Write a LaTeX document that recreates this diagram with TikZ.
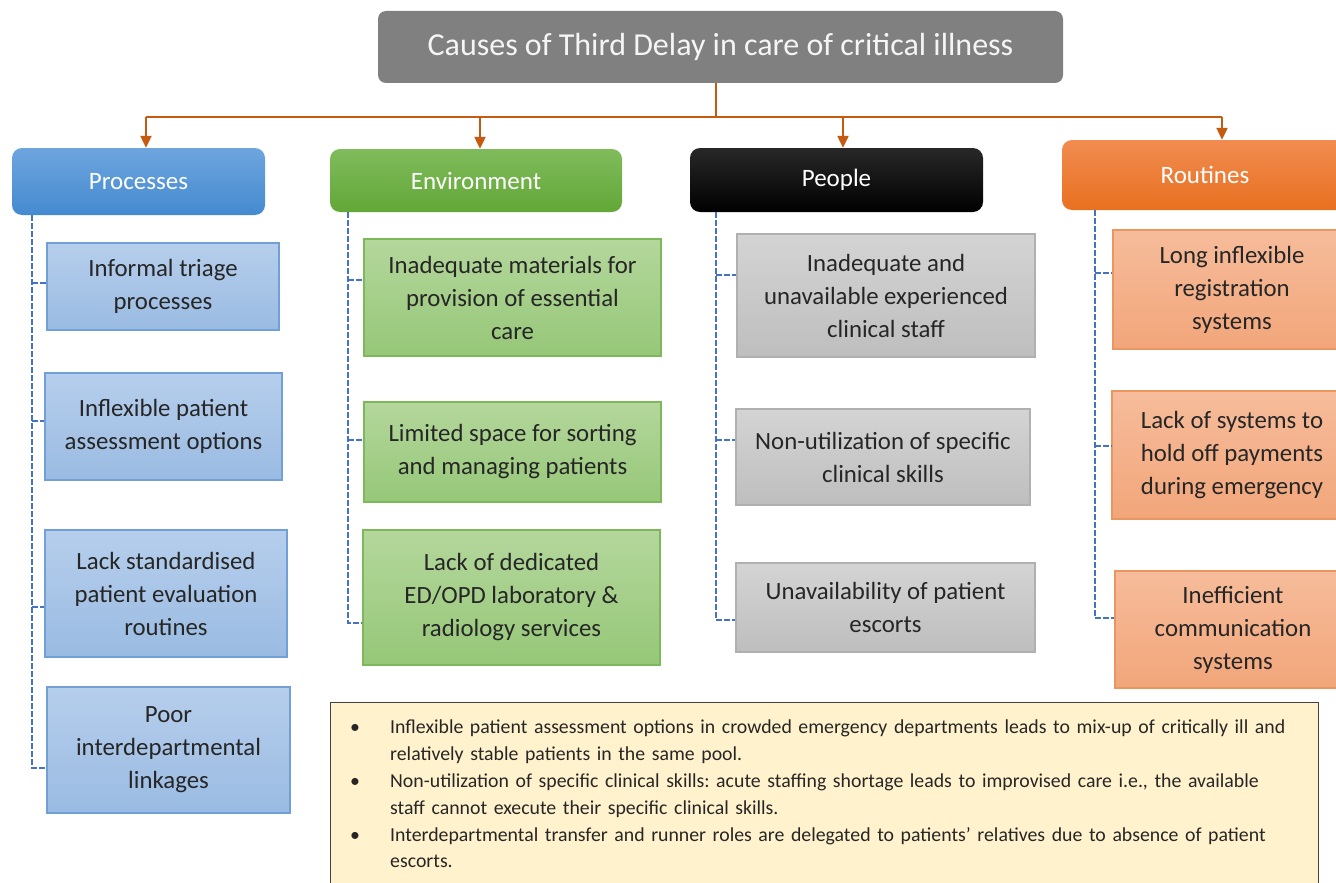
\documentclass[tikz,border=0pt]{standalone}
\usepackage{fontspec}
\setmainfont{Carlito}
\usetikzlibrary{arrows.meta}
\frenchspacing

\definecolor{titlegray}{RGB}{128,128,128}
\definecolor{treeorange}{RGB}{197,90,17}
\definecolor{dashblue}{RGB}{68,114,196}
\definecolor{itemtext}{RGB}{38,38,38}
\definecolor{noteyellow}{RGB}{255,242,204}

\tikzset{
  hdr/.style={rounded corners=10pt, inner sep=0pt, text=white,
    font=\fontsize{25}{28}\selectfont, align=center},
  procH/.style={hdr, top color={rgb,255:red,110;green,165;blue,222}, bottom color={rgb,255:red,68;green,138;blue,208}},
  envH/.style={hdr, top color={rgb,255:red,128;green,187;blue,92}, bottom color={rgb,255:red,98;green,167;blue,55}},
  peopH/.style={hdr, top color={rgb,255:red,40;green,40;blue,40}, bottom color=black},
  routH/.style={hdr, top color={rgb,255:red,241;green,140;blue,80}, bottom color={rgb,255:red,232;green,112;blue,32}},
  itembox/.style={draw, line width=1.2pt, inner sep=0pt, align=center, text=itemtext,
    font=\fontsize{24.8}{33}\selectfont},
  procI/.style={itembox, draw={rgb,255:red,112;green,160;blue,214},
    top color={rgb,255:red,182;green,206;blue,236}, bottom color={rgb,255:red,154;green,187;blue,226}},
  envI/.style={itembox, draw={rgb,255:red,126;green,184;blue,90},
    top color={rgb,255:red,180;green,215;blue,156}, bottom color={rgb,255:red,150;green,199;blue,120}},
  peopI/.style={itembox, draw={rgb,255:red,176;green,176;blue,176},
    top color={rgb,255:red,212;green,212;blue,212}, bottom color={rgb,255:red,190;green,190;blue,190}},
  routI/.style={itembox, draw={rgb,255:red,233;green,150;blue,96},
    top color={rgb,255:red,246;green,188;blue,155}, bottom color={rgb,255:red,242;green,166;blue,122}},
  tree/.style={draw=treeorange, line width=2.2pt},
  treearrow/.style={tree, -{Triangle[length=12pt,width=11pt]}},
  dashconn/.style={draw=dashblue, line width=1.6pt, dash pattern=on 6pt off 2pt},
}

\begin{document}
\begin{tikzpicture}[x=1pt, y=-1pt]
  \clip (0,0) rectangle (1336,883);
  \fill[white] (0,0) rectangle (1336,883);

  % title
  \node[rounded corners=8pt, fill=titlegray, text={rgb,255:red,245;green,245;blue,245},
        minimum width=685pt, minimum height=72pt, inner sep=0pt,
        font=\fontsize{32}{36}\selectfont] (title) at (720.5,47) {Causes of Third Delay in care of critical illness};

  % category headers
  \node[procH, minimum width=253pt, minimum height=67pt] (hp) at (138.5,181.5) {Processes};
  \node[envH,  minimum width=292pt, minimum height=63pt] (he) at (476,180.5) {Environment};
  \node[peopH, minimum width=293pt, minimum height=64pt] (hg) at (836.5,180) {People};
  \node[routH, minimum width=286pt, minimum height=70pt] (hr) at (1205,175) {Routines};

  % orange tree from the title to the headers
  \coordinate (stem) at (716,0);
  \coordinate (b1) at (146,117);
  \coordinate (b2) at (480,117);
  \coordinate (b3) at (843,117);
  \coordinate (b4) at (1222,117);
  \draw[tree] (title.south -| stem) -- (stem |- b1);
  \draw[tree] (b1) -- (b4);
  \draw[treearrow] (b1) -- (hp.north -| b1);
  \draw[treearrow] (b2) -- (he.north -| b2);
  \draw[treearrow] (b3) -- (hg.north -| b3);
  \draw[treearrow] (b4) -- (hr.north -| b4);

  % Processes items
  \node[procI, minimum width=232pt, minimum height=87pt]  (p1) at (163,286.5) {Informal triage\\processes};
  \node[procI, minimum width=237pt, minimum height=107pt] (p2) at (163.5,426.5) {Inflexible patient\\assessment options};
  \node[procI, minimum width=242pt, minimum height=127pt] (p3) at (166,593.5) {Lack standardised\\patient evaluation\\routines};
  \node[procI, minimum width=243pt, minimum height=126pt] (p4) at (168.5,750) {Poor\\interdepartmental\\linkages};

  % Environment items
  \node[envI, minimum width=297pt, minimum height=117pt] (e1) at (512.5,297.5) {Inadequate materials for\\provision of essential\\care};
  \node[envI, minimum width=297pt, minimum height=100pt] (e2) at (512.5,452) {Limited space for sorting\\and managing patients};
  \node[envI, minimum width=297pt, minimum height=135pt] (e3) at (511.5,597.5) {Lack of dedicated\\ED/OPD laboratory \&\\radiology services};

  % People items
  \node[peopI, minimum width=298pt, minimum height=123pt] (g1) at (886,295.5) {Inadequate and\\unavailable experienced\\clinical staff};
  \node[peopI, minimum width=294pt, minimum height=96pt]  (g2) at (883,457) {Non-utilization of specific\\clinical skills};
  \node[peopI, minimum width=299pt, minimum height=89pt]  (g3) at (885.5,607.5) {Unavailability of patient\\escorts};

  % Routines items
  \node[routI, minimum width=238pt, minimum height=119pt] (r1) at (1232,289.5) {Long inflexible\\registration\\systems};
  \node[routI, minimum width=240pt, minimum height=128pt] (r2) at (1232,455) {Lack of systems to\\hold off payments\\during emergency};
  \node[routI, minimum width=236pt, minimum height=117pt] (r3) at (1233,629.5) {Inefficient\\communication\\systems};

  % dashed branch lines
  \coordinate (pc) at (32,0);
  \coordinate (ec) at (348,0);
  \coordinate (gc) at (716,0);
  \coordinate (rc) at (1095,0);
  \draw[dashconn] (hp.south -| pc) |- (p4.west |- 0,768);
  \draw[dashconn] (pc |- 0,283) -- (p1.west |- 0,283);
  \draw[dashconn] (pc |- 0,421) -- (p2.west |- 0,421);
  \draw[dashconn] (pc |- 0,607) -- (p3.west |- 0,607);

  \draw[dashconn] (he.south -| ec) |- (e3.west |- 0,623);
  \draw[dashconn] (ec |- 0,280) -- (e1.west |- 0,280);
  \draw[dashconn] (ec |- 0,440) -- (e2.west |- 0,440);

  \draw[dashconn] (hg.south -| gc) |- (g3.west |- 0,620);
  \draw[dashconn] (gc |- 0,275) -- (g1.west |- 0,275);
  \draw[dashconn] (gc |- 0,440) -- (g2.west |- 0,440);

  \draw[dashconn] (hr.south -| rc) |- (r3.west |- 0,618);
  \draw[dashconn] (rc |- 0,273) -- (r1.west |- 0,273);
  \draw[dashconn] (rc |- 0,446) -- (r2.west |- 0,446);

  % explanatory notes
  \node[draw={rgb,255:red,64;green,64;blue,64}, line width=1.3pt, fill=noteyellow,
        anchor=north west, minimum width=988pt, minimum height=200pt, inner sep=0pt] (note) at (330,702) {};
  \node[anchor=north west, inner sep=0pt, text width=960pt, align=left, text=itemtext,
        font=\fontsize{19.8}{26.8}\selectfont] (notetext) at ([xshift=20pt,yshift=-18pt]note.north west)
  {%
    \hangindent=40pt\hangafter=1\makebox[40pt][l]{\textbullet}Inflexible patient assessment options in crowded emergency departments leads to mix-up of critically ill and\newline relatively stable patients in the same pool.\par
    \hangindent=40pt\hangafter=1\makebox[40pt][l]{\textbullet}Non-utilization of specific clinical skills: acute staffing shortage leads to improvised care i.e., the available\newline staff cannot execute their specific clinical skills.\par
    \hangindent=40pt\hangafter=1\makebox[40pt][l]{\textbullet}Interdepartmental transfer and runner roles are delegated to patients’ relatives due to absence of patient\newline escorts.\par
  };
\end{tikzpicture}
\end{document}
